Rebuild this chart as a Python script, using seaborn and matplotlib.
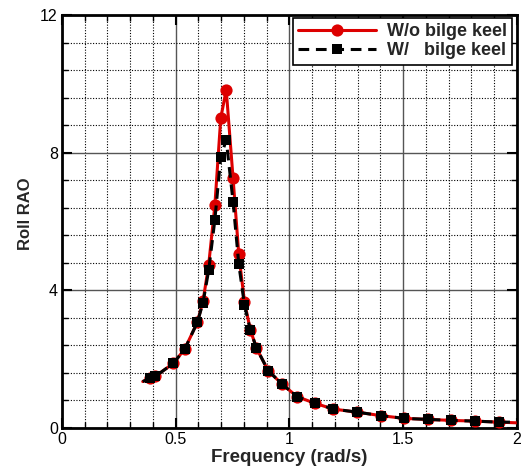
import numpy as np
import matplotlib
matplotlib.use("Agg")
import matplotlib.pyplot as plt
import seaborn as sns
from matplotlib.ticker import MultipleLocator

# data
freq = [0.355, 0.385, 0.41, 0.49, 0.54, 0.595, 0.62, 0.645, 0.672, 0.698, 0.722,
        0.752, 0.777, 0.802, 0.828, 0.855, 0.906, 0.968, 1.034, 1.111, 1.193,
        1.298, 1.401, 1.503, 1.607, 1.712, 1.816, 1.919, 2.0]
rao_wo = [1.35, 1.44, 1.50, 1.88, 2.30, 3.07, 3.69, 4.75, 6.47, 9.01, 9.83,
          7.26, 5.06, 3.67, 2.85, 2.32, 1.67, 1.27, 0.91, 0.72, 0.55,
          0.46, 0.36, 0.28, 0.25, 0.22, 0.20, 0.17, 0.15]
rao_w = [1.35, 1.44, 1.50, 1.88, 2.30, 3.07, 3.64, 4.59, 6.05, 7.88, 8.37,
         6.58, 4.77, 3.58, 2.85, 2.32, 1.67, 1.27, 0.91, 0.72, 0.55,
         0.46, 0.36, 0.28, 0.25, 0.22, 0.20, 0.17, 0.17]
labels = ["W/o bilge keel", "W/   bilge keel"]

sns.set_style("ticks")
plt.rcParams["font.family"] = ["Liberation Sans", "DejaVu Sans"]

fig = plt.figure(figsize=(5.27, 4.71), dpi=100)
ax = fig.add_axes([0.1176, 0.0913, 0.8634, 0.8767])

marks = list(range(1, len(freq) - 1))

# -------- Roll RAO curves --------
sns.lineplot(x=freq, y=rao_wo, ax=ax, color="#dd0000", linewidth=2.2,
             marker="o", markersize=8.8, markeredgewidth=0, markevery=marks,
             label=labels[0], sort=False, zorder=3)
sns.lineplot(x=freq, y=rao_w, ax=ax, color="black", linewidth=2.2,
             linestyle=(0, (3.5, 2.2)), marker="s", markersize=6.5,
             markeredgewidth=0, markevery=marks, label=labels[1], sort=False,
             zorder=4)

ax.set_xlim(0, 2)
ax.set_ylim(0, 12)
ax.xaxis.set_minor_locator(MultipleLocator(0.1))
ax.yaxis.set_major_locator(MultipleLocator(4))
ax.yaxis.set_minor_locator(MultipleLocator(0.8))
ax.set_xticks([0, 0.5, 1, 1.5, 2])
ax.set_xticklabels(["0", "0.5", "1", "1.5", "2"])

ax.grid(which="major", color="#555555", linewidth=1.0, linestyle="-")
ax.grid(which="minor", color="black", linewidth=0.8, linestyle=(0, (1, 1.5)))
ax.set_axisbelow(True)

ax.tick_params(which="both", direction="in", top=True, right=True,
               labelsize=11.5, colors="black")
ax.tick_params(which="major", length=7, width=1.5, pad=3)
ax.tick_params(which="minor", length=4, width=1.0)
for s in ax.spines.values():
    s.set_linewidth(2)
    s.set_color("black")

ax.set_xlabel("Frequency (rad/s)", fontsize=13.5, fontweight="bold", labelpad=1)
ax.set_ylabel("Roll RAO", fontsize=12, fontweight="bold")
ax.yaxis.set_label_coords(-0.064, 0.518)

leg = ax.legend(loc="upper right", bbox_to_anchor=(0.989, 0.993),
                prop={"weight": "bold", "size": 13},
                handlelength=4.3, frameon=True, fancybox=False, framealpha=1,
                edgecolor="black", borderaxespad=0, borderpad=0.3,
                labelspacing=0.1, handletextpad=0.6)
leg.get_frame().set_linewidth(1.2)

plt.savefig("out.png", dpi=100)
